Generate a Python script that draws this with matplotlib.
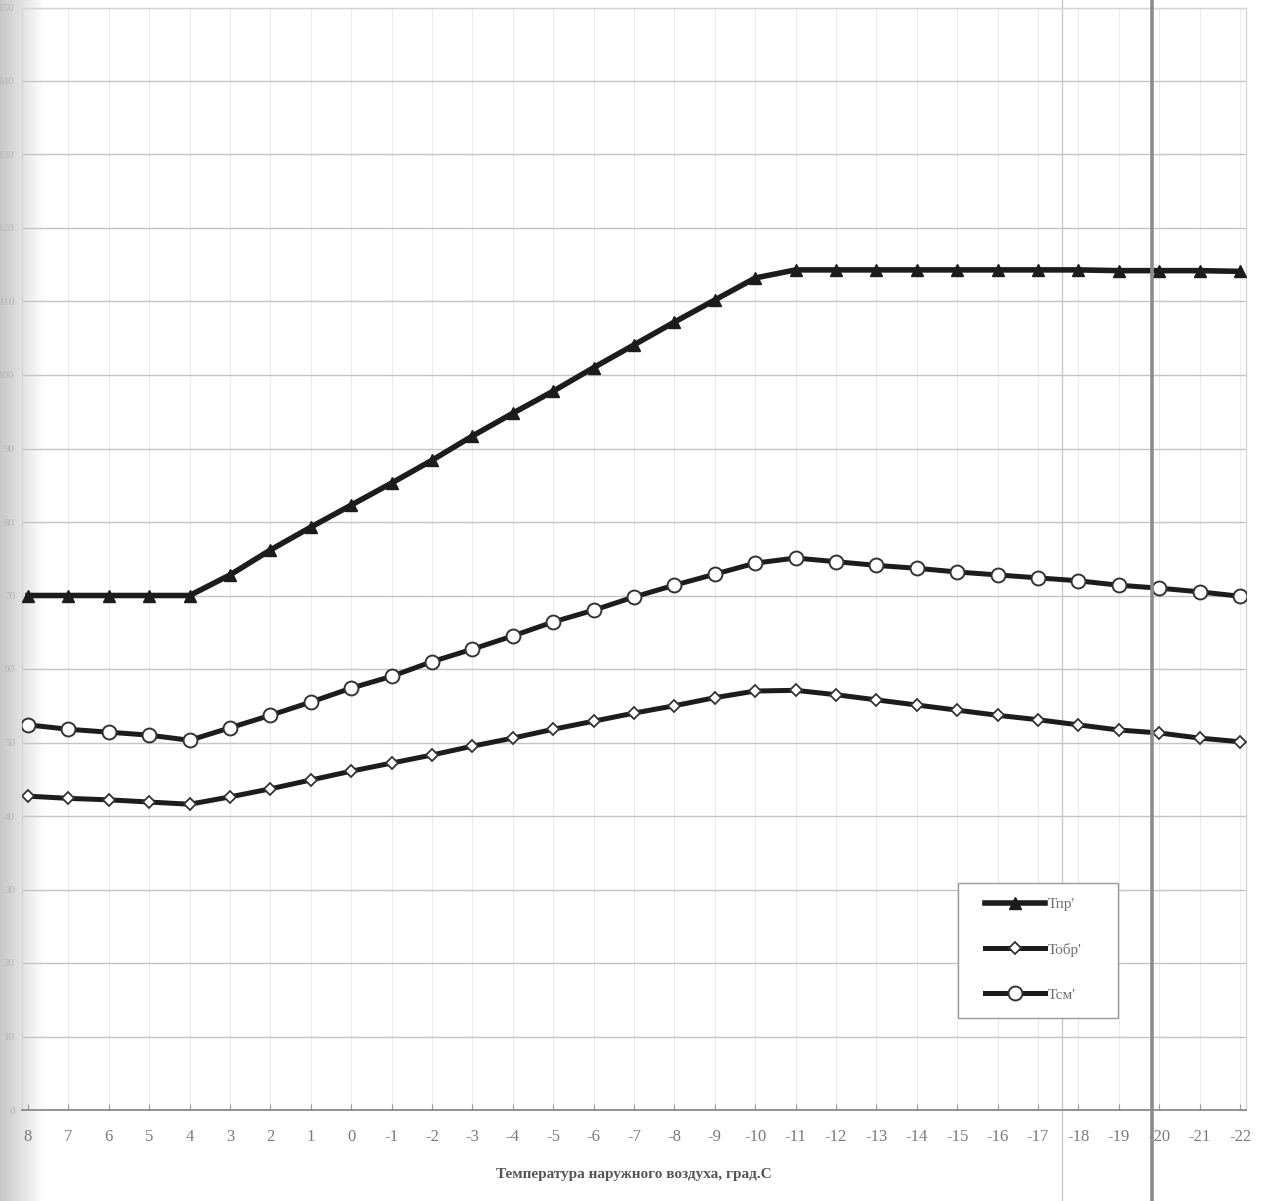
"""Heating water temperature chart vs outdoor air temperature."""

import numpy as np
import matplotlib
matplotlib.use("Agg")
import matplotlib.pyplot as plt
from matplotlib.patches import Rectangle

# outdoor temperature, deg C
t_out = [8, 7, 6, 5, 4, 3, 2, 1, 0, -1, -2, -3, -4, -5, -6, -7, -8, -9, -10,
         -11, -12, -13, -14, -15, -16, -17, -18, -19, -20, -21, -22]

# supply water temperature
t_pr = [70.0, 70.0, 70.0, 70.0, 70.0, 72.8, 76.2, 79.3, 82.3, 85.3, 88.4,
        91.7, 94.8, 97.8, 101.0, 104.1, 107.2, 110.2, 113.2, 114.3, 114.3,
        114.3, 114.3, 114.3, 114.3, 114.3, 114.3, 114.2, 114.2, 114.2, 114.1]

# return water temperature
t_obr = [42.7, 42.4, 42.2, 41.9, 41.6, 42.6, 43.7, 44.9, 46.1, 47.2, 48.3,
         49.5, 50.6, 51.8, 52.9, 54.0, 55.0, 56.1, 57.0, 57.1, 56.5, 55.8,
         55.1, 54.4, 53.7, 53.1, 52.4, 51.7, 51.3, 50.6, 50.1]

# mixed water temperature
t_sm = [52.4, 51.8, 51.4, 51.0, 50.3, 52.0, 53.7, 55.5, 57.4, 59.0, 61.0,
        62.7, 64.5, 66.4, 68.0, 69.8, 71.4, 72.9, 74.4, 75.1, 74.6, 74.1,
        73.7, 73.2, 72.8, 72.4, 72.0, 71.4, 71.0, 70.5, 69.9]

y_ticks = [0, 10, 20, 30, 40, 50, 60, 70, 80, 90, 100, 110, 120, 130, 140, 150]

W, H = 1269, 1201
fig = plt.figure(figsize=(W / 100, H / 100), dpi=100)

# scanner shadow along the left edge
shade = fig.add_axes([0, 0, 45 / W, 1], zorder=0)
grad = np.linspace(0.78, 1.0, 256).reshape(1, -1)
shade.imshow(grad, aspect="auto", cmap="gray", vmin=0, vmax=1,
             extent=[0, 1, 0, 1])
shade.axis("off")

ax = fig.add_axes([22 / W, (H - 1110) / H, 1224 / W, 1102.5 / H], zorder=1)
ax.set_facecolor("none")

line_col = "#1c1c1c"
ax.plot(t_out, t_pr, color=line_col, lw=4.0, marker="^", ms=8,
        mfc=line_col, mec=line_col, label="Тпр'", zorder=4)
ax.plot(t_out, t_obr, color=line_col, lw=3.6, marker="D", ms=6.5,
        mfc="white", mec="#333333", mew=1.3, label="Тобр'", zorder=4)
ax.plot(t_out, t_sm, color=line_col, lw=3.6, marker="o", ms=10,
        mfc="white", mec="#333333", mew=1.4, label="Тсм'", zorder=4)

ax.set_xlim(8.15, -22.15)
ax.set_ylim(0, 150)
ax.set_xticks(t_out)
ax.set_xticklabels([str(t) for t in t_out])
ax.set_yticks(y_ticks)
ax.set_yticklabels([str(v) for v in y_ticks])

ax.grid(axis="y", color="#c4c4c4", lw=1.0)
ax.grid(axis="x", color="#ebebeb", lw=0.8)
ax.set_axisbelow(True)

for name, sp in ax.spines.items():
    sp.set_color("#d6d6d6")
    sp.set_linewidth(1.0)
ax.spines["bottom"].set_color("#8a8a8a")
ax.spines["bottom"].set_linewidth(1.3)

ax.tick_params(axis="x", colors="#9a9a9a", labelcolor="#7a7a7a",
               labelsize=12, length=4, direction="in", pad=14)
ax.tick_params(axis="y", colors="#d0d0d0", labelcolor="#b5b5b5",
               labelsize=8, length=0, pad=5)
for lbl in ax.get_xticklabels() + ax.get_yticklabels():
    lbl.set_family("Liberation Serif")

ax.set_xlabel("Температура наружного воздуха, град.С", family="Liberation Serif",
              fontsize=11, fontweight="bold", color="#555555", labelpad=16)

# fold lines on the scanned sheet
ax.axvline(-19.83, ymin=-0.085, ymax=1.01, color="#8c8c8c", lw=2.6,
           clip_on=False, zorder=5)
ax.axvline(-17.6, ymin=-0.085, ymax=1.01, color="#c8c8c8", lw=1.0,
           clip_on=False, zorder=2)

# legend box drawn separately so it can be wider than its contents
ax.add_patch(Rectangle((0.7647, 0.0834), 0.1307, 0.1225, transform=ax.transAxes,
                       facecolor="white", edgecolor="#9a9a9a", lw=1.0, zorder=6))
leg = ax.legend(loc="upper left", bbox_to_anchor=(0.7868, 0.1925),
                prop={"family": "Liberation Serif", "size": 11},
                handlelength=3.9, labelspacing=2.05, borderpad=0,
                handletextpad=0.2, frameon=False, borderaxespad=0)
leg.set_zorder(7)
for txt in leg.get_texts():
    txt.set_color("#707070")

fig.savefig("out.png", dpi=100)
print("Saved plot to out.png")
